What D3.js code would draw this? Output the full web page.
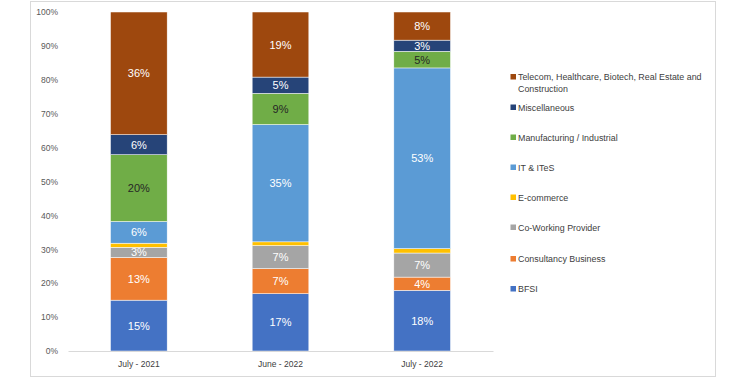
<!DOCTYPE html>
<html><head><meta charset="utf-8">
<script src="https://cdn.jsdelivr.net/npm/d3@7"></script>
<style>body{margin:0;background:#fff}svg{display:block}</style>
</head><body><svg id="c" width="744" height="378"></svg>
<script>
const categories = ["July - 2021", "June - 2022", "July - 2022"];
const seriesNames = ["BFSI","Consultancy Business","Co-Working Provider","E-commerce","IT & ITeS","Manufacturing / Industrial","Miscellaneous","Telecom, Healthcare, Biotech, Real Estate and Construction"];
const BFSI = [15.0, 16.9, 17.9];
const Consultancy = [12.6, 7.4, 3.9];
const CoWorking = [3.0, 6.8, 7.1];
const Ecommerce = [1.2, 1.1, 1.3];
const IT = [6.4, 34.6, 53.3];
const Manufacturing = [19.7, 9.2, 4.9];
const Misc = [5.9, 4.8, 3.3];
const Telecom = [36.2, 19.2, 8.3];
const yTicks = [0,10,20,30,40,50,60,70,80,90,100];
const colors = ["#4472C4","#ED7D31","#A5A5A5","#FFC000","#5B9BD5","#70AD47","#264478","#9E480E"];
const labelColors = ["#fff","#fff","#fff",null,"#fff","#262626","#fff","#fff"];
const seriesVals = [BFSI,Consultancy,CoWorking,Ecommerce,IT,Manufacturing,Misc,Telecom];

const svg = d3.select("#c");
const font = "'Liberation Sans', Arial, sans-serif";
svg.append("rect").attr("x",30.5).attr("y",1.5).attr("width",685).attr("height",375)
  .attr("fill","#fff").attr("stroke","#d9d9d9");

const x = d3.scaleBand().domain(categories).range([68,493]).paddingInner(0.6).paddingOuter(0.3);
const y = d3.scaleLinear().domain([0,100]).range([351,12]);

const rows = categories.map((c,i)=>{const o={cat:c}; seriesNames.forEach((s,j)=>o[s]=seriesVals[j][i]); return o;});
const stack = d3.stack().keys(seriesNames)(rows);

const g = svg.append("g");
stack.forEach((layer,j)=>{
  g.selectAll(null).data(layer).enter().append("rect")
    .attr("x",d=>x(d.data.cat)).attr("width",x.bandwidth())
    .attr("y",d=>y(d[1])).attr("height",d=>y(d[0])-y(d[1]))
    .attr("fill",colors[j]).attr("stroke","#fff").attr("stroke-width",0.5);
  if(labelColors[j]){
    g.selectAll(null).data(layer).enter().append("text")
      .attr("x",d=>x(d.data.cat)+x.bandwidth()/2)
      .attr("y",d=>(y(d[0])+y(d[1]))/2)
      .attr("dy","0.36em").attr("text-anchor","middle")
      .attr("font-family",font).attr("font-size",11).attr("fill",labelColors[j])
      .text(d=>Math.round(d[1]-d[0])+"%");
  }
});

// y axis labels
const ya = svg.append("g").attr("transform","translate(68,0)")
  .call(d3.axisLeft(y).tickValues(yTicks).tickSize(0).tickPadding(10).tickFormat(d=>d+"%"));
ya.select(".domain").remove();
ya.selectAll("text").attr("font-family",font).attr("font-size",8.5).attr("fill","#595959");

// x axis
const xa = svg.append("g").attr("transform","translate(0,351)")
  .call(d3.axisBottom(x).tickSize(0).tickPadding(10));
xa.select(".domain").attr("stroke","#d9d9d9");
xa.selectAll("text").attr("font-family",font).attr("font-size",8.5).attr("fill","#404040");

// legend
const legendItems = [
  {i:7, lines:["Telecom, Healthcare, Biotech, Real Estate and","Construction"], y:77},
  {i:6, lines:["Miscellaneous"], y:107.5},
  {i:5, lines:["Manufacturing / Industrial"], y:137.5},
  {i:4, lines:["IT & ITeS"], y:167.5},
  {i:3, lines:["E-commerce"], y:197.5},
  {i:2, lines:["Co-Working Provider"], y:227.5},
  {i:1, lines:["Consultancy Business"], y:259},
  {i:0, lines:["BFSI"], y:289}
];
const lg = svg.append("g");
legendItems.forEach(it=>{
  lg.append("rect").attr("x",510.5).attr("y",it.y-3).attr("width",5.5).attr("height",5.5).attr("fill",colors[it.i]);
  const t = lg.append("text").attr("font-family",font).attr("font-size",8.9).attr("fill","#404040");
  it.lines.forEach((l,k)=>t.append("tspan").attr("x",518).attr("y",it.y+12*k).attr("dy","0.35em").text(l));
});
</script></body></html>
